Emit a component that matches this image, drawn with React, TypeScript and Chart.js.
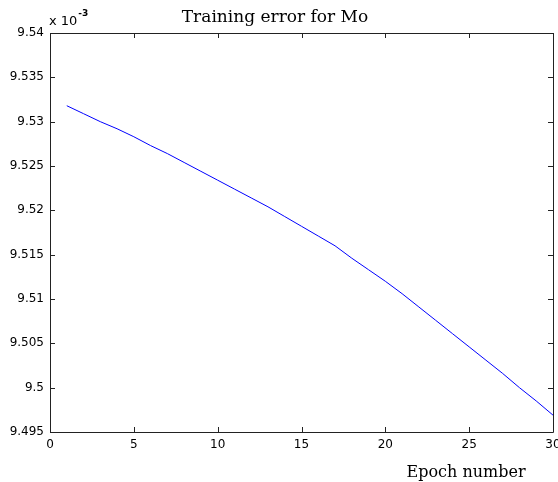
import React, { useEffect, useRef } from "react";
import { Chart, registerables } from "chart.js";

Chart.register(...registerables);

const epochs = [1, 2, 3, 4, 5, 6, 7, 8, 9, 10, 11, 12, 13, 14, 15, 16, 17, 18, 19, 20, 21, 22, 23, 24, 25, 26, 27, 28, 29, 30];
const trainingError = [
  9.5318, 9.5309, 9.5300, 9.5292, 9.5283, 9.5273, 9.5264, 9.5254, 9.5244, 9.5234,
  9.5224, 9.5214, 9.5204, 9.5193, 9.5182, 9.5171, 9.5160, 9.5146, 9.5133, 9.5120,
  9.5106, 9.5091, 9.5076, 9.5061, 9.5046, 9.5031, 9.5016, 9.5000, 9.4985, 9.4969,
];
const xTicks = [0, 5, 10, 15, 20, 25, 30];
const yTicks = [9.495, 9.5, 9.505, 9.51, 9.515, 9.52, 9.525, 9.53, 9.535, 9.54];
const titleText = "Training error for Mo";
const xLabelText = "Epoch number";
const exponentBase = "x 10";
const exponentPower = "-3";

const framePlugin = {
  id: "frame",
  afterDraw(chart: any) {
    const { ctx, chartArea } = chart;
    const { left, right, top, bottom } = chartArea;
    const xs = chart.scales.x;
    const ys = chart.scales.y;
    ctx.save();
    ctx.strokeStyle = "#222";
    ctx.lineWidth = 1;
    ctx.beginPath();
    ctx.rect(Math.round(left) + 0.5, Math.round(top) + 0.5, Math.round(right - left), Math.round(bottom - top));
    ctx.stroke();
    const tl = 5;
    ctx.beginPath();
    xTicks.forEach((t) => {
      const px = Math.round(xs.getPixelForValue(t)) + 0.5;
      ctx.moveTo(px, bottom);
      ctx.lineTo(px, bottom - tl);
      ctx.moveTo(px, top);
      ctx.lineTo(px, top + tl);
    });
    yTicks.forEach((t) => {
      const py = Math.round(ys.getPixelForValue(t)) + 0.5;
      ctx.moveTo(left, py);
      ctx.lineTo(left + tl, py);
      ctx.moveTo(right, py);
      ctx.lineTo(right - tl, py);
    });
    ctx.stroke();

    ctx.fillStyle = "#000";
    ctx.textBaseline = "alphabetic";
    ctx.textAlign = "center";
    ctx.font = "17px 'DejaVu Serif'";
    ctx.fillText(titleText, 275, 22);
    ctx.font = "16px 'DejaVu Serif'";
    ctx.fillText(xLabelText, 466, 477);

    ctx.textAlign = "left";
    ctx.font = "13px 'DejaVu Sans'";
    ctx.fillText(exponentBase, 49, 25);
    const w = ctx.measureText(exponentBase).width;
    ctx.font = "bold 9px 'DejaVu Sans'";
    ctx.fillText(exponentPower, 49 + w + 1, 16);
    ctx.restore();
  },
};

export default function App() {
  const canvasRef = useRef<HTMLCanvasElement | null>(null);

  useEffect(() => {
    document.body.style.margin = "0";
    const canvas = canvasRef.current;
    if (!canvas) return;
    const chart = new Chart(canvas, {
      type: "line",
      data: {
        datasets: [
          {
            data: epochs.map((e, i) => ({ x: e, y: trainingError[i] })),
            borderColor: "#0000ff",
            borderWidth: 1,
            pointRadius: 0,
            tension: 0,
            fill: false,
          },
        ],
      },
      options: {
        animation: false,
        responsive: true,
        maintainAspectRatio: false,
        layout: { padding: { top: 33, right: 5, left: 0, bottom: 0 } },
        plugins: {
          legend: { display: false },
          title: { display: false },
          tooltip: { enabled: false },
        },
        scales: {
          x: {
            type: "linear",
            min: 0,
            max: 30,
            afterFit: (s: any) => {
              s.height = 50;
              s.paddingLeft = 0;
              s.paddingRight = 0;
            },
            afterBuildTicks: (s: any) => {
              s.ticks = xTicks.map((v) => ({ value: v }));
            },
            grid: { display: false, drawTicks: false },
            border: { display: false },
            ticks: {
              padding: 6,
              color: "#000",
              font: { family: "'DejaVu Sans'", size: 12 },
              maxRotation: 0,
              autoSkip: false,
            },
          },
          y: {
            type: "linear",
            min: 9.495,
            max: 9.54,
            afterFit: (s: any) => {
              s.width = 50;
              s.paddingTop = 0;
              s.paddingBottom = 0;
            },
            afterBuildTicks: (s: any) => {
              s.ticks = yTicks.map((v) => ({ value: v }));
            },
            grid: { display: false, drawTicks: false },
            border: { display: false },
            ticks: {
              padding: 6,
              color: "#000",
              font: { family: "'DejaVu Sans'", size: 12 },
              autoSkip: false,
              callback: (v: any) => Number(Number(v).toFixed(3)).toString(),
            },
          },
        },
      },
      plugins: [framePlugin],
    });
    return () => chart.destroy();
  }, []);

  return (
    <div style={{ width: 558, height: 482, position: "relative", background: "#fff" }}>
      <canvas ref={canvasRef} />
    </div>
  );
}
